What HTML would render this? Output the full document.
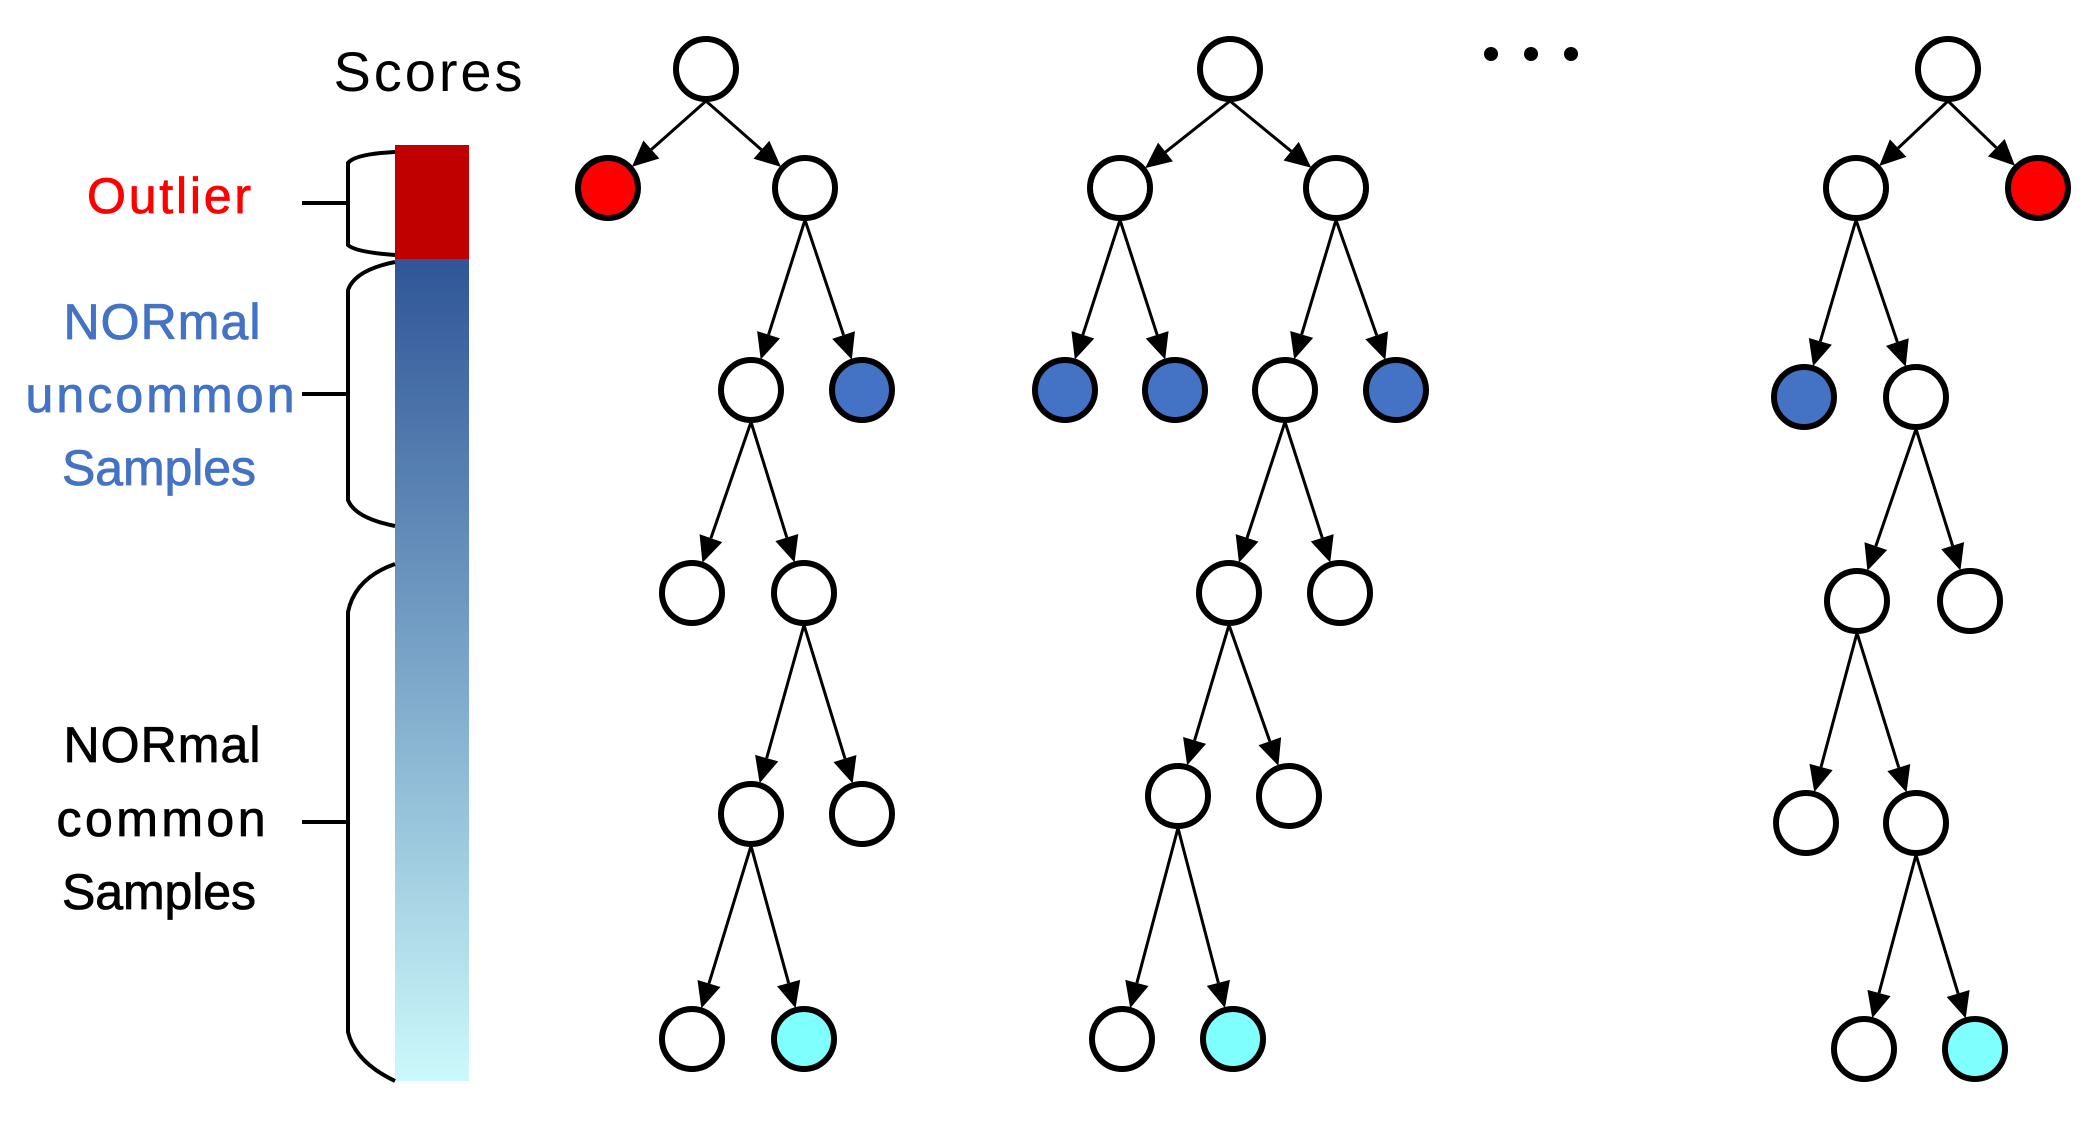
<!DOCTYPE html>
<html><head><meta charset="utf-8"><style>
html,body{margin:0;padding:0;background:#fff;}
svg{display:block;}
text{font-family:"Liberation Sans",sans-serif;}
</style></head><body>
<svg id="s" width="2097" height="1122" viewBox="0 0 2097 1122" xmlns="http://www.w3.org/2000/svg">
<defs>
<linearGradient id="g" x1="0" y1="0" x2="0" y2="1">
<stop offset="0" stop-color="#2f5597"/>
<stop offset="0.5" stop-color="#7ba6c9"/>
<stop offset="1" stop-color="#ccf9fb"/>
</linearGradient>
</defs>
<text x="428" y="91" font-size="56" text-anchor="middle" textLength="189" fill="#000">Scores</text>
<rect x="395" y="145" width="74" height="114" fill="#c00000"/>
<rect x="395" y="259" width="74" height="822" fill="url(#g)"/>
<g fill="none" stroke="#000" stroke-width="4">
<path d="M395 152 Q355 154 348 163 L348 245 Q355 252 395 255"/>
<path d="M302 203 H348"/>
<path d="M395 262 Q355 270 348 290 L348 500 Q355 518 395 526"/>
<path d="M302 394 H348"/>
<path d="M395 564 Q355 578 348 612 L348 1032 Q355 1062 395 1081"/>
<path d="M302 822 H348"/>
</g>
<g font-size="50" text-anchor="middle" stroke-width="0.8">
<text x="169" y="213" fill="#ff0000" stroke="#ff0000" textLength="164">Outlier</text>
<text x="162" y="339" fill="#4472c4" stroke="#4472c4" textLength="197">NORmal</text>
<text x="160" y="412" fill="#4472c4" stroke="#4472c4" textLength="269">uncommon</text>
<text x="159" y="485" fill="#4472c4" stroke="#4472c4" textLength="194">Samples</text>
<text x="162" y="762" fill="#000" stroke="#000" textLength="197">NORmal</text>
<text x="161" y="836" fill="#000" stroke="#000" textLength="209">common</text>
<text x="159" y="909" fill="#000" stroke="#000" textLength="194">Samples</text>
</g>
<g fill="#000"><circle cx="1491" cy="54" r="7"/><circle cx="1531" cy="54" r="7"/><circle cx="1571" cy="54" r="7"/></g>
<g id="t"></g>
</svg>
<script>
var W='#fff',R='#ff0000',B='#4472c4',C='#80ffff';
var trees=[
[[706,69,W,-1],[608,188,R,0],[805,188,W,0],[751,390,W,2],[862,390,B,2],[692,593,W,3],[804,593,W,3],[751,814,W,6],[862,814,W,6],[692,1039,W,7],[804,1039,C,7]],
[[1230,69,W,-1],[1120,188,W,0],[1336,188,W,0],[1065,390,B,1],[1175,390,B,1],[1285,390,W,2],[1396,390,B,2],[1229,593,W,5],[1340,593,W,5],[1178,796,W,7],[1289,796,W,7],[1122,1039,W,9],[1233,1039,C,9]],
[[1948,69,W,-1],[1856,188,W,0],[2038,188,R,0],[1804,397,B,1],[1916,397,W,1],[1857,601,W,4],[1970,601,W,4],[1806,823,W,5],[1916,823,W,5],[1864,1049,W,8],[1975,1049,C,8]]
];
var r=30,g=document.getElementById('t'),h='';
trees.forEach(function(t){
 t.forEach(function(n){
  if(n[3]<0)return;var p=t[n[3]];
  var sx=p[0],sy=p[1]+r+2;
  var dx=n[0]-sx,dy=n[1]-sy,L=Math.sqrt(dx*dx+dy*dy),ux=dx/L,uy=dy/L;
  var ex=n[0]-ux*(r+2),ey=n[1]-uy*(r+2);
  var bx=ex-ux*26,by=ey-uy*26,px=-uy*12,py=ux*12;
  h+='<line x1="'+sx+'" y1="'+sy+'" x2="'+bx+'" y2="'+by+'" stroke="#000" stroke-width="3"/>';
  h+='<polygon points="'+ex+','+ey+' '+(bx+px)+','+(by+py)+' '+(bx-px)+','+(by-py)+'" fill="#000"/>';
 });
 t.forEach(function(n){h+='<circle cx="'+n[0]+'" cy="'+n[1]+'" r="'+r+'" fill="'+n[2]+'" stroke="#000" stroke-width="6"/>';});
});
g.innerHTML=h;
</script>
</body></html>
